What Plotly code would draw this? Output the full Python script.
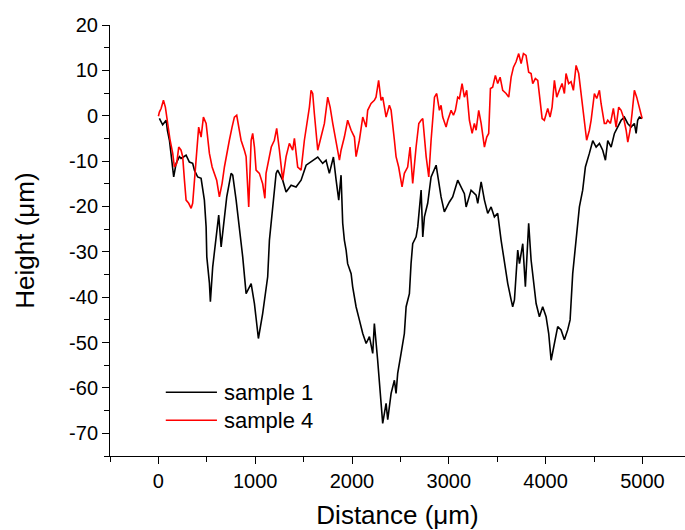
import plotly.graph_objects as go

# sample 1 profile (distance in um, height in um)
s1_x = [10, 44, 80, 93, 114, 148, 158, 183, 217, 234, 286, 320, 354, 372, 406, 441, 475, 493, 500,
        527, 537, 561, 596, 623, 648, 682, 706, 751, 768, 803, 837, 871, 906, 958, 992, 1033, 1077,
        1129, 1147, 1181, 1216, 1232, 1284, 1319, 1371, 1422, 1474, 1526, 1594, 1646, 1697, 1732,
        1766, 1808, 1836, 1863, 1887, 1904, 1921, 1939, 1955, 1991, 2007, 2042, 2076, 2111, 2146,
        2180, 2214, 2231, 2265, 2300, 2317, 2352, 2369, 2404, 2438, 2455, 2472, 2507, 2541, 2559,
        2593, 2610, 2627, 2662, 2679, 2714, 2731, 2748, 2782, 2817, 2869, 2920, 2954, 3006, 3040,
        3092, 3127, 3161, 3179, 3230, 3282, 3299, 3334, 3368, 3402, 3437, 3471, 3505, 3540, 3574,
        3609, 3644, 3660, 3678, 3712, 3730, 3764, 3791, 3825, 3850, 3884, 3902, 3936, 3970, 4005,
        4032, 4057, 4091, 4125, 4160, 4194, 4228, 4253, 4280, 4308, 4332, 4349, 4383, 4411, 4452,
        4487, 4522, 4556, 4590, 4618, 4642, 4677, 4711, 4745, 4780, 4814, 4848, 4883, 4917, 4935,
        4951, 4969, 4997]
s1_y = [-0.6, -2, -1, -3.2, -5.4, -11.3, -13.5, -10.5, -9, -9.4, -8.7, -10.2, -10.5, -12, -13.5,
        -13.8, -18.6, -24.5, -31.1, -36.9, -41, -33.3, -27.4, -21.9, -28.9, -22.3, -17.9, -12.7,
        -13.1, -18.6, -24.5, -31.1, -39.2, -37, -41.4, -49.1, -43.6, -35.5, -27.4, -19.3, -12.7,
        -12, -14.2, -16.8, -15.3, -15.7, -14.2, -10.9, -9.8, -9.1, -10.5, -9.8, -12.7, -9.1, -14.2,
        -18.6, -13.1, -23.7, -27.4, -29.6, -32.6, -34.8, -37.7, -42.1, -45, -48, -50.2, -48.7,
        -52.4, -45.8, -53.9, -63.4, -67.8, -63.4, -67, -61.2, -58.3, -61.2, -56.8, -52.4, -48,
        -42.1, -39.2, -32.6, -28.2, -26.7, -24.5, -16.4, -26.7, -22.3, -19.3, -13.5, -10.9, -17.9,
        -21.2, -19, -17.9, -14.2, -15.7, -17.2, -20.1, -16.4, -17.5, -19.3, -14.6, -18.6, -21.5,
        -20.1, -22.3, -21.5, -27.4, -32.6, -37, -40.6, -42.1, -40.6, -29.6, -32.6, -28.2, -37.7,
        -23.7, -31.8, -37.7, -41.4, -44.3, -42.1, -44.3, -48, -53.9, -50.2, -46.5, -47.2, -49.4,
        -47.2, -45, -34.8, -28.9, -22.3, -20.1, -16.4, -11.3, -8.3, -5.5, -6.9, -6.1, -7.6, -9.8,
        -5.5, -6.9, -3.9, -2.5, -1, -0.3, -1.7, -2.5, -1.7, -3.9, -1, -0.3, -0.6]

# sample 4 profile
s4_x = [0, 10, 28, 52, 72, 96, 121, 148, 165, 189, 210, 234, 251, 269, 286, 313, 338, 354, 372,
        389, 416, 441, 465, 493, 509, 527, 555, 578, 602, 630, 658, 682, 706, 733, 761, 785, 809,
        837, 854, 888, 906, 933, 958, 974, 992, 1009, 1043, 1077, 1100, 1112, 1166, 1198, 1222,
        1250, 1284, 1319, 1353, 1387, 1405, 1439, 1474, 1508, 1543, 1560, 1577, 1594, 1611, 1646,
        1680, 1715, 1749, 1774, 1801, 1836, 1870, 1887, 1921, 1955, 1991, 2025, 2042, 2076, 2111,
        2146, 2162, 2197, 2231, 2248, 2275, 2300, 2317, 2335, 2352, 2386, 2404, 2438, 2455, 2482,
        2517, 2541, 2575, 2600, 2627, 2662, 2690, 2714, 2731, 2766, 2793, 2817, 2852, 2875, 2903,
        2920, 2937, 2972, 2989, 3024, 3048, 3068, 3092, 3110, 3137, 3161, 3185, 3213, 3241, 3264,
        3282, 3309, 3334, 3368, 3392, 3412, 3430, 3453, 3481, 3505, 3530, 3557, 3592, 3619, 3644,
        3668, 3695, 3722, 3747, 3771, 3798, 3825, 3850, 3867, 3894, 3919, 3936, 3964, 3987, 4022,
        4046, 4067, 4091, 4115, 4142, 4170, 4194, 4211, 4238, 4263, 4287, 4315, 4342, 4367, 4390,
        4411, 4424, 4452, 4470, 4504, 4528, 4556, 4573, 4607, 4625, 4642, 4670, 4700, 4728, 4755,
        4780, 4804, 4832, 4849, 4873, 4893, 4917, 4941, 4969, 4997]
s4_y = [-0.1, 0.8, 1.6, 3.4, 1.9, -1.7, -5.4, -8.3, -11.3, -10.5, -6.9, -7.6, -9, -14.2, -18.6,
        -19.3, -20.4, -19.3, -14.2, -9, -2.5, -4.7, -0.3, -1.7, -4.7, -8.3, -11.3, -12.7, -14.2,
        -17.9, -14.9, -11.3, -8.3, -5.4, -2.5, -0.3, 0.1, -3.2, -5.4, -7.6, -9, -20.1, -5.4, -3.9,
        -6.9, -12, -12.7, -15, -18.2, -12.7, -6.9, -5.4, -2.8, -7.6, -14.2, -9, -6.1, -7.6, -5,
        -11.3, -12, -5.4, -0.3, 1.9, 5.6, 4.9, 0.5, -7.6, -4.7, -1.7, 4.1, 1.9, -1.7, -5.4, -9.8,
        -7.6, -4.7, -1, -3.2, -4.7, -9, -5.4, -0.3, -2.5, 1.2, 2.7, 3.4, 4.1, 7.8, 3.4, 4.1, 1.9,
        -0.3, 2.3, 1.2, -5.4, -9, -11.3, -15.7, -12.7, -11.3, -6.9, -14.9, -6.9, -1.7, -1, -0.6,
        -9, -13.5, -5.4, 4.1, 4.9, 1.2, 2.3, -0.3, -2.5, -1, 1.2, 0.1, 1.2, 4.1, 3.8, 7.1, 4.1,
        5.6, -1, -3.9, -1.7, -3.2, 1.2, -1.7, -6.9, -4.7, -3.9, 6, 6.3, 8.9, 7.1, 8.5, 5.6, 4.9,
        4.1, 8.5, 10.7, 11.9, 13.7, 11.5, 13.7, 13.3, 9.6, 9.3, 7.1, 8.2, 7.8, 4.1, -0.6, -1, 1.6,
        -0.3, 1.9, 7.8, 4.1, 5.6, 7.1, 4.9, 9.3, 7.1, 7.5, 5.6, 11.1, 9.3, 4.9, 0.5, -3.9, -5.4,
        -3.2, -1, 4.9, 3.8, 5.6, 2.7, -1.7, -1.7, -1, -1.7, 1.6, -2.5, 1.9, 1.2, -0.3, -3.2, -5.8,
        -3.2, 0.5, 5.6, 4.1, 1.9, -0.6]

y_ticks = [20, 10, 0, -10, -20, -30, -40, -50, -60, -70]
y_ticktext = ["20", "10", "0", "-10", "-20", "-30", "-40", "-50", "-60", "-70"]
x_ticks = [0, 1000, 2000, 3000, 4000, 5000]

FONT = "Liberation Sans, Arial, sans-serif"

fig = go.Figure()
fig.add_trace(go.Scatter(x=s1_x, y=s1_y, mode="lines", name="sample 1",
                         line=dict(color="black", width=1.6)))
fig.add_trace(go.Scatter(x=s4_x, y=s4_y, mode="lines", name="sample 4",
                         line=dict(color="#ff0000", width=1.6)))

# legend drawn by hand so the sample lines are as long as in the original
for i, (name, col) in enumerate([("sample 1", "black"), ("sample 4", "#ff0000")]):
    yy = 0.148 - i * 0.065
    fig.add_shape(type="line", xref="paper", yref="paper", x0=0.097, x1=0.186, y0=yy, y1=yy,
                  line=dict(color=col, width=1.6))
    fig.add_annotation(xref="paper", yref="paper", x=0.194, y=yy, text=name, showarrow=False,
                       xanchor="left", yanchor="middle", font=dict(size=22, color="black", family=FONT))

fig.update_layout(
    width=685, height=530,
    margin=dict(l=110, r=0, t=25, b=74),
    plot_bgcolor="white", paper_bgcolor="white",
    showlegend=False,
    font=dict(family=FONT, size=20, color="black"),
    xaxis=dict(
        range=[-500, 5440], tickvals=x_ticks, ticks="outside", ticklen=7, tickwidth=1,
        tickcolor="black", showline=True, linecolor="black", linewidth=1, showgrid=False,
        zeroline=False, tickfont=dict(size=20),
        minor=dict(dtick=500, tick0=-500, ticks="outside", ticklen=5, tickcolor="black", showgrid=False),
        title=dict(text="Distance (μm)", font=dict(size=26), standoff=17),
    ),
    yaxis=dict(
        range=[-75, 20], tickvals=y_ticks, ticktext=y_ticktext, ticks="outside", ticklen=7,
        tickwidth=1, tickcolor="black", showline=True, linecolor="black", linewidth=1,
        showgrid=False, zeroline=False, tickfont=dict(size=20),
        minor=dict(dtick=5, tick0=-75, ticks="outside", ticklen=5, tickcolor="black", showgrid=False),
        title=dict(text="Height (μm)", font=dict(size=26), standoff=26),
    ),
)

# the page's default body margin would shift the figure by 8px
fig.write_html("out.html", config={"displayModeBar": False},
               post_script="document.body.style.margin='0';")
